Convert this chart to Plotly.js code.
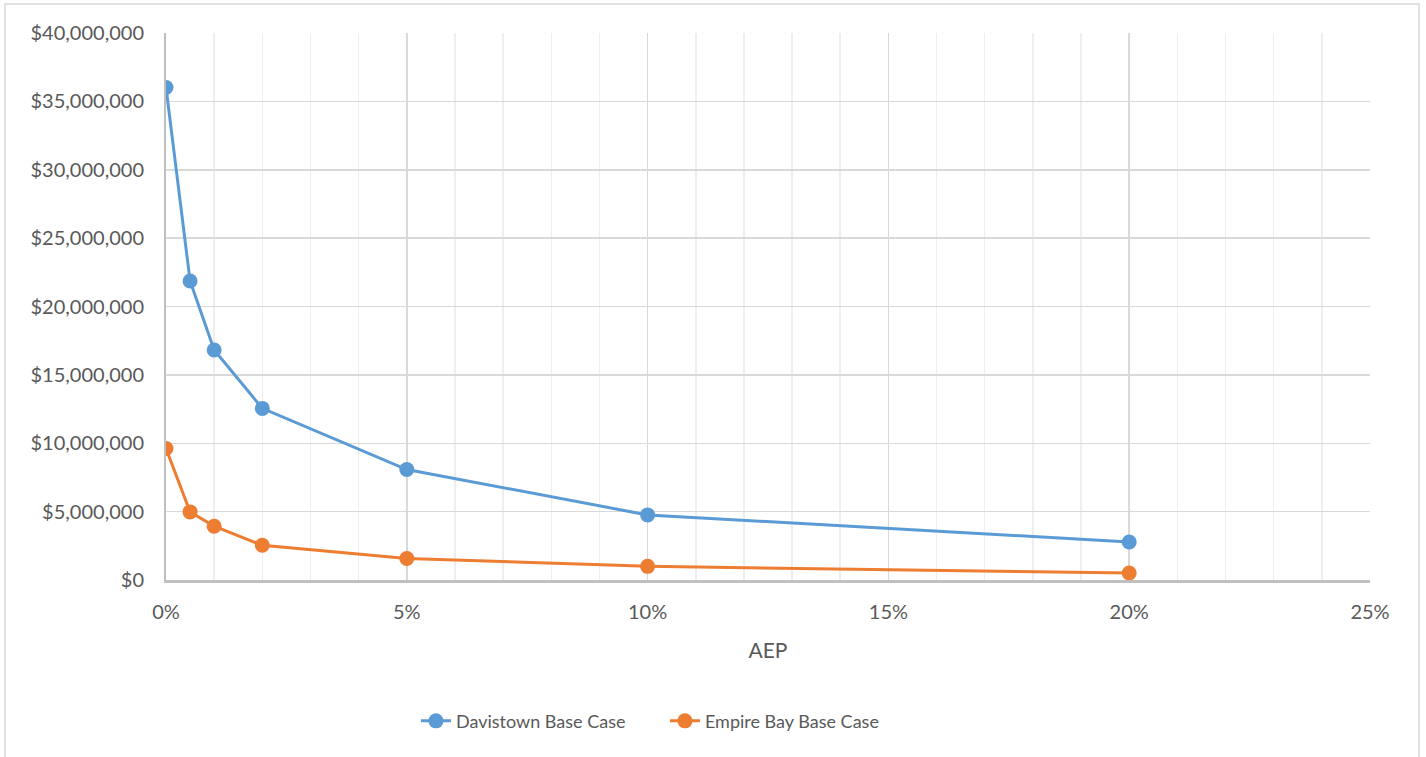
<!DOCTYPE html>
<html>
<head>
<meta charset="utf-8">
<script src="https://cdn.plot.ly/plotly-3.0.1.min.js"></script>
<style>
html,body{margin:0;padding:0;background:#fff;}
#chart{width:1426px;height:757px;}
</style>
</head>
<body>
<div id="chart"></div>
<script>
const aep = [0, 0.005, 0.01, 0.02, 0.05, 0.10, 0.20];
const davistown = [36020000, 21870000, 16820000, 12550000, 8080000, 4760000, 2780000];
const empireBay = [9620000, 4980000, 3930000, 2540000, 1570000, 1000000, 510000];
const seriesNames = ["Davistown Base Case", "Empire Bay Base Case"];
const xTickVals = [0, 0.05, 0.10, 0.15, 0.20, 0.25];
const yTickVals = [0, 5000000, 10000000, 15000000, 20000000, 25000000, 30000000, 35000000, 40000000];

const font = "Lato, 'Open Sans', sans-serif";
const traces = [
  {x: aep, y: davistown, name: seriesNames[0], type: 'scatter', mode: 'lines+markers',
   line: {color: '#5B9BD5', width: 3}, marker: {color: '#5B9BD5', size: 15}},
  {x: aep, y: empireBay, name: seriesNames[1], type: 'scatter', mode: 'lines+markers',
   line: {color: '#ED7D31', width: 3}, marker: {color: '#ED7D31', size: 15}}
];
const layout = {
  width: 1426, height: 757,
  margin: {l: 166, r: 56, t: 33, b: 177},
  paper_bgcolor: '#fff', plot_bgcolor: '#fff',
  font: {family: font, size: 20, color: '#595959'},
  separators: '.,',
  showlegend: true,
  legend: {orientation: 'h', x: 0.2076, xanchor: 'left', y: -0.258, yanchor: 'middle',
           entrywidth: 204, entrywidthmode: 'pixels',
           font: {family: font, size: 18, color: '#595959'}},
  xaxis: {range: [0, 0.25], tickvals: xTickVals, tickformat: '.0%',
          showgrid: true, gridcolor: '#d9d9d9', gridwidth: 1.5,
          minor: {dtick: 0.01, tick0: 0, showgrid: true, gridcolor: '#eeeeee', gridwidth: 1.5},
          showline: true, linecolor: '#bfbfbf', linewidth: 2.5, zeroline: false,
          ticks: '', ticklabelstandoff: 12,
          title: {text: 'AEP', standoff: 22, font: {family: font, size: 21, color: '#595959'}}},
  yaxis: {range: [0, 40000000], tickvals: yTickVals, tickformat: '$,.0f',
          showgrid: true, gridcolor: '#d9d9d9', gridwidth: 1.5,
          showline: true, linecolor: '#bfbfbf', linewidth: 2, zeroline: false,
          ticks: '', ticklabelstandoff: 16},
  shapes: [
    {type: 'rect', xref: 'paper', yref: 'paper', x0: -0.1337, x1: 1.0407, y0: -0.45, y1: 1.053,
     line: {color: '#d9d9d9', width: 1.5}, fillcolor: 'rgba(0,0,0,0)', layer: 'below'}
  ]
};
Plotly.newPlot('chart', traces, layout, {displayModeBar: false, staticPlot: true});
</script>
</body>
</html>
